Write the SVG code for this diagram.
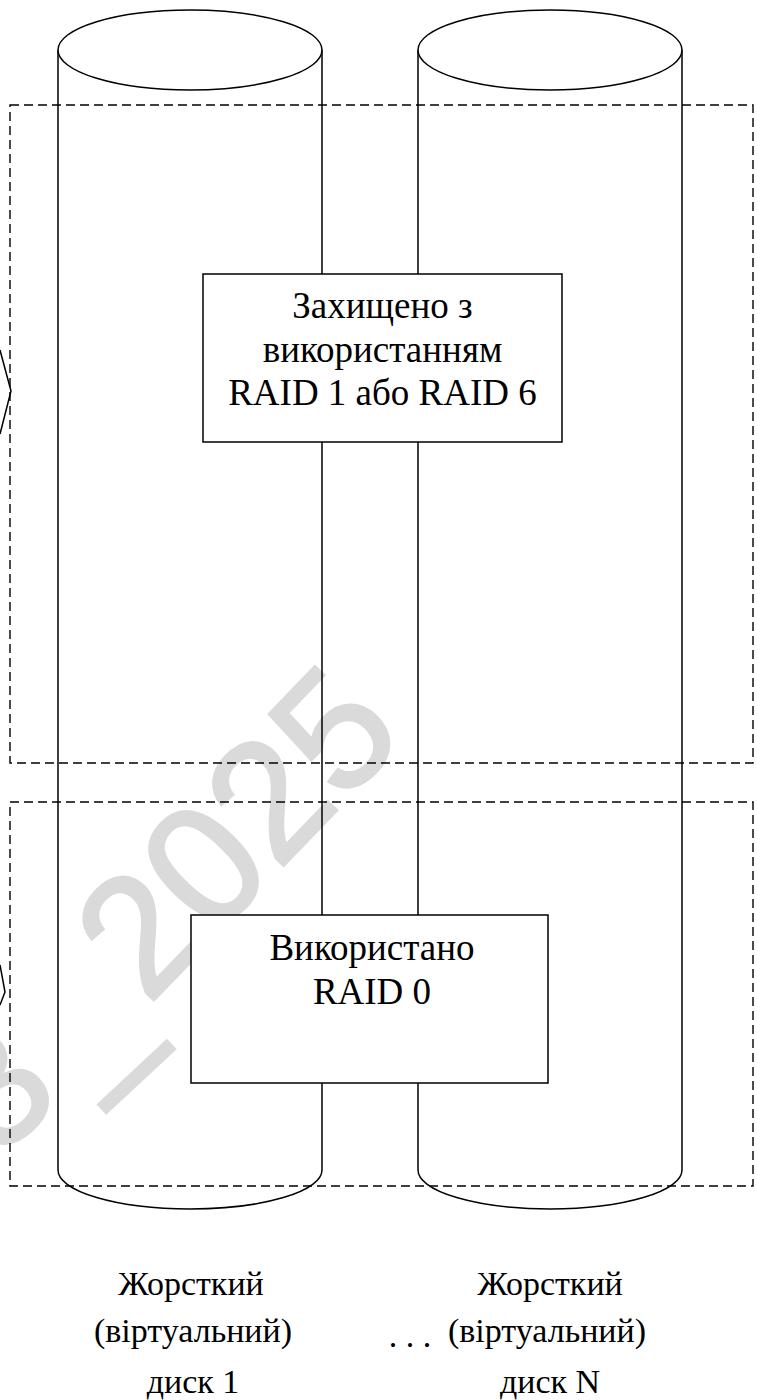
<svg xmlns="http://www.w3.org/2000/svg" width="757" height="1400" viewBox="0 0 757 1400">
<style>
.ln{fill:none;stroke:#000;stroke-width:1.5}
.cyl{fill:#fff;stroke:#000;stroke-width:1.5}
.dash{fill:none;stroke:#000;stroke-width:1.4;stroke-dasharray:9 5}
.box{fill:#fff;stroke:#000;stroke-width:1.5}
.t{font-family:"Liberation Serif","Times New Roman",serif;fill:#000;text-anchor:middle}
.bt{font-size:37px}
.lb{font-size:34px}
.wm{font-family:"Liberation Sans",Arial,sans-serif;font-size:168px;fill:#dadada;stroke:#dadada;stroke-width:3}
</style>
<rect width="757" height="1400" fill="#fff"/>
<g id="watermark">
<text class="wm" transform="translate(148,1006) rotate(-46)" x="0" y="0">2025</text>
<text class="wm" transform="translate(135,1075) rotate(-43)" x="0" y="45" text-anchor="middle">–</text>
<text class="wm" transform="translate(-10,1085) rotate(-43)" x="0" y="60" text-anchor="middle">3</text>
</g>
<g id="disk1">
<path class="ln" d="M58,50 V1170 A132,39 0 0 0 322,1170 V50"/>
<ellipse class="cyl" cx="190" cy="50" rx="132" ry="40"/>
</g>
<g id="diskN">
<path class="ln" d="M418,50 V1170 A132,39 0 0 0 682,1170 V50"/>
<ellipse class="cyl" cx="550" cy="50" rx="132" ry="40"/>
</g>
<g id="zone-protected">
<rect class="dash" x="10" y="105" width="743" height="658"/>
<path class="ln" d="M0,350 L11,391 L0,434"/>
</g>
<g id="zone-raid0">
<rect class="dash" x="10" y="802" width="743" height="384"/>
<path class="ln" d="M0,965 L5,992 L0,1005"/>
</g>
<g id="box-raid16">
<rect class="box" x="203" y="274" width="359" height="168"/>
<text class="t bt" x="382.5" y="318">Захищено з</text>
<text class="t bt" x="382.5" y="362">використанням</text>
<text class="t bt" x="382.5" y="405">RAID 1 або RAID 6</text>
</g>
<g id="box-raid0">
<rect class="box" x="191" y="915" width="357" height="168"/>
<text class="t bt" x="372" y="960">Використано</text>
<text class="t bt" x="372" y="1004">RAID 0</text>
</g>
<g id="label1">
<text class="t lb" x="191" y="1295">Жорсткий</text>
<text class="t lb" x="193" y="1342">(віртуальний)</text>
<text class="t lb" x="193" y="1393">диск 1</text>
</g>
<g id="dots">
<text class="t lb" x="410" y="1347">. . .</text>
</g>
<g id="labelN">
<text class="t lb" x="550" y="1295">Жорсткий</text>
<text class="t lb" x="547" y="1342">(віртуальний)</text>
<text class="t lb" x="550" y="1393">диск N</text>
</g>
</svg>
